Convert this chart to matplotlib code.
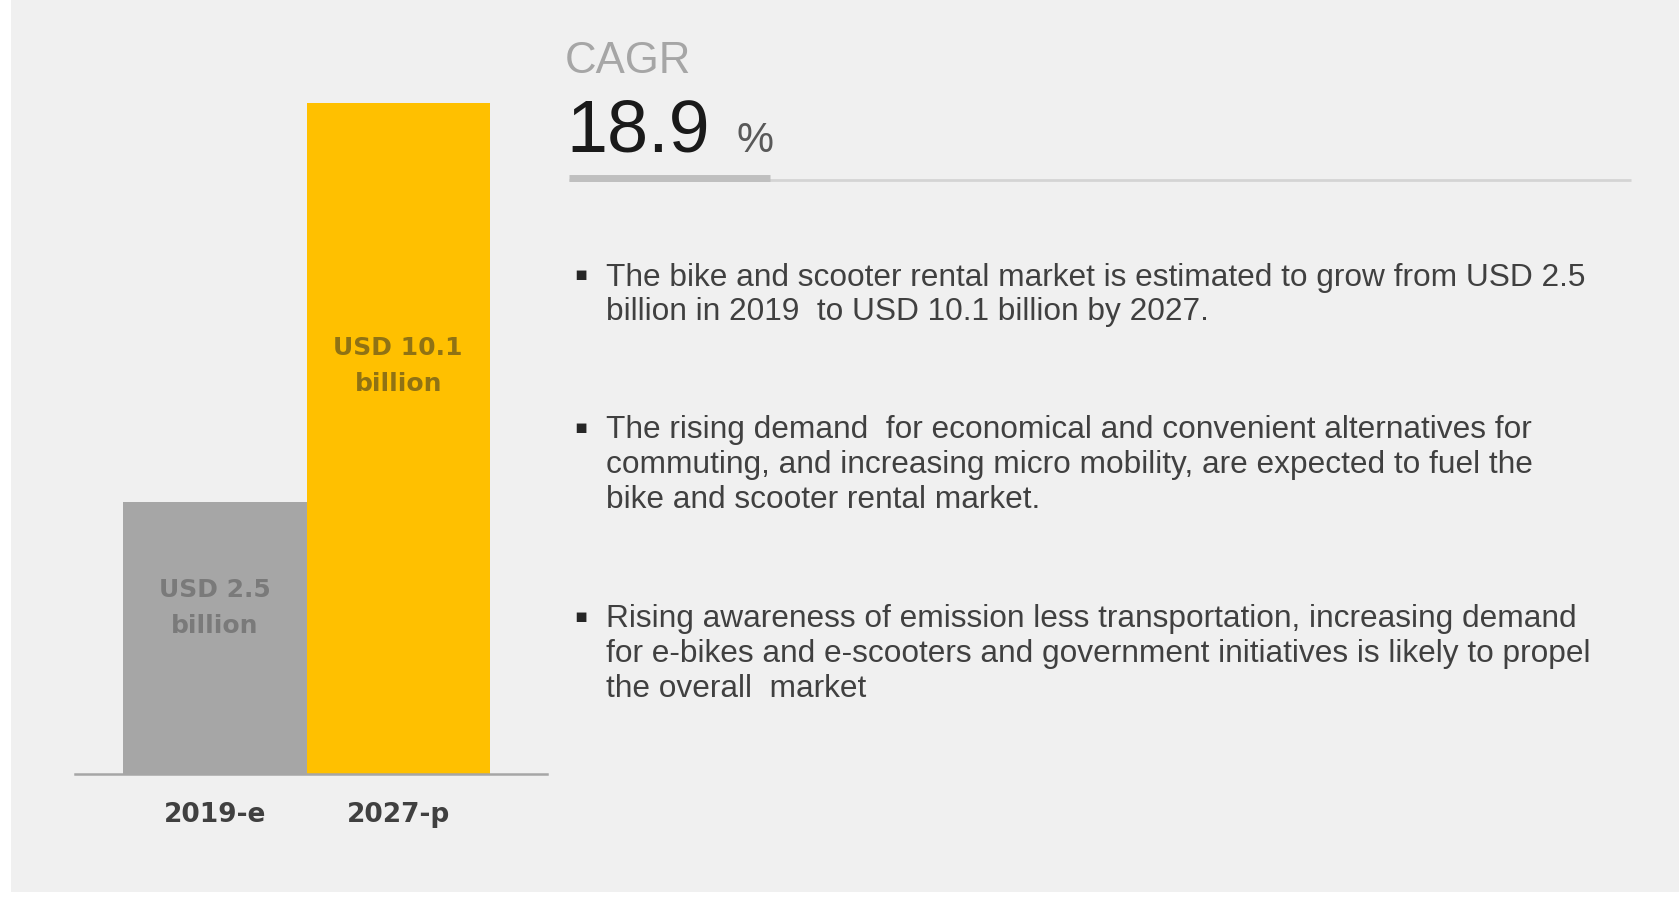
import matplotlib.pyplot as plt
from matplotlib.patches import Rectangle

# data
categories = ["2019-e", "2027-p"]
values_bn = [2.5, 10.1]            # market size, USD billion (shown in labels)
bar_heights = [4.1, 10.1]          # drawn heights (chart is not to scale)
bar_colors = ["#a6a6a6", "#ffc000"]
label_colors = ["#7a7a7a", "#8f7214"]
cagr = 18.9
bullets = [
    "The bike and scooter rental market is estimated to grow from USD 2.5\n"
    "billion in 2019  to USD 10.1 billion by 2027.",
    "The rising demand  for economical and convenient alternatives for\n"
    "commuting, and increasing micro mobility, are expected to fuel the\n"
    "bike and scooter rental market.",
    "Rising awareness of emission less transportation, increasing demand\n"
    "for e-bikes and e-scooters and government initiatives is likely to propel\n"
    "the overall  market",
]
bullet_y = [295, 465, 654]

W, H = 1679, 901
fig = plt.figure(figsize=(W / 100, H / 100), dpi=100)
fig.patch.set_facecolor("white")

# overlay in pixel coords for the panel and text
ov = fig.add_axes([0, 0, 1, 1])
ov.set_xlim(0, W)
ov.set_ylim(H, 0)
ov.axis("off")
ov.add_patch(Rectangle((11, 0), W - 11, 892, facecolor="#f0f0f0", edgecolor="none", zorder=0))

# bar chart
ax = fig.add_axes([75 / W, 1 - 774 / H, 472 / W, 671 / H])
ax.patch.set_alpha(0)
x = list(range(len(categories)))
ax.bar(x, bar_heights, width=1.0, color=bar_colors, zorder=2)
ax.set_xlim(-0.762, 1.811)
ax.set_ylim(0, 10.1)
for s in ["top", "right", "left"]:
    ax.spines[s].set_visible(False)
ax.spines["bottom"].set_color("#a6a6a6")
ax.spines["bottom"].set_linewidth(1.8)
ax.set_yticks([])
ax.set_xticks(x)
ax.set_xticklabels(categories, fontsize=19, fontweight="bold", color="#404040")
ax.tick_params(axis="x", length=0, pad=20)
for xi, h, v, c in zip(x, bar_heights, values_bn, label_colors):
    ax.text(xi, h * 0.608, f"USD {v}\nbillion", ha="center", va="center",
            fontsize=18, fontweight="bold", color=c, linespacing=1.62, zorder=3)

# CAGR block
ov.text(565, 73, "CAGR", fontsize=31.5, color="#a6a6a6", family="Liberation Sans",
        va="baseline")
ov.text(566, 152, f"{cagr}", fontsize=53, color="#1a1a1a", family="Liberation Sans",
        va="baseline")
ov.text(737, 152, "%", fontsize=30, color="#595959", family="Liberation Sans",
        va="baseline")
ov.plot([569, 1631], [180, 180], color="#d4d4d4", lw=2, solid_capstyle="butt")
ov.plot([569, 770], [178, 178], color="#bfbfbf", lw=5, solid_capstyle="butt")

# bullet points
for yb, txt in zip(bullet_y, bullets):
    nlines = txt.count("\n") + 1
    top = yb - nlines * 35 / 2
    ov.text(581, top + 15, "\u25aa", fontsize=14, color="#262626", ha="center", va="center")
    ov.text(606, yb, txt, fontsize=22.8, color="#404040", family="Liberation Sans",
            va="center", ha="left", linespacing=1.2)

fig.savefig("out.png", dpi=100)
